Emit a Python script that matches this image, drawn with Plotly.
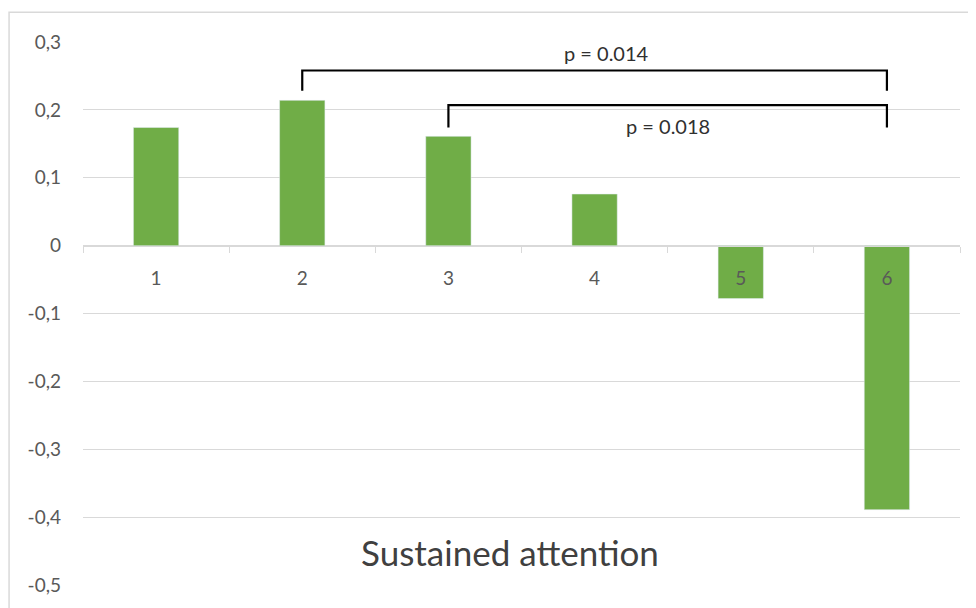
import plotly.graph_objects as go

categories = ["1", "2", "3", "4", "5", "6"]
values = [0.174, 0.214, 0.161, 0.076, -0.078, -0.389]
y_tickvals = [-0.5, -0.4, -0.3, -0.2, -0.1, 0, 0.1, 0.2, 0.3]
y_ticktext = ["-0,5", "-0,4", "-0,3", "-0,2", "-0,1", "0", "0,1", "0,2", "0,3"]
title_text = "Sustained attention"

# significance brackets: (from category, to category, top y, leg bottom y, label, label y, label x)
brackets = [
    ("2", "6", 0.258, 0.228, "p = 0.014", 0.284, 3.08),
    ("3", "6", 0.207, 0.174, "p = 0.018", 0.176, 3.5),
]

FONT = "Lato"
TXT = "#595959"
GREEN = "#70AD47"
GRID = "#D9D9D9"

fig = go.Figure()
fig.add_trace(go.Bar(x=categories, y=values, marker_color=GREEN, width=0.31,
                     showlegend=False, hoverinfo="skip"))

annotations = []
for a, b, top, leg, label, ly, lx in brackets:
    fig.add_trace(go.Scatter(x=[a, a, b, b], y=[leg, top, top, leg], mode="lines",
                             line=dict(color="black", width=2.2), showlegend=False,
                             hoverinfo="skip", cliponaxis=False))
    annotations.append(dict(x=lx, y=ly, xref="x", yref="y", text=label, showarrow=False,
                            font=dict(family=FONT, size=20, color="#303030")))

annotations.append(dict(x=0.487, y=-0.451, xref="paper", yref="y", text=title_text,
                        showarrow=False, font=dict(family=FONT, size=35, color="#404040")))

fig.update_layout(
    width=968, height=600,
    margin=dict(l=75, r=16, t=34, b=21),
    paper_bgcolor="white", plot_bgcolor="white",
    font=dict(family=FONT, size=19, color=TXT),
    annotations=annotations,
    shapes=[dict(type="rect", xref="paper", yref="paper", x0=-0.0843, x1=1.06, y0=-0.2, y1=1.055,
                 line=dict(color=GRID, width=1.5), layer="below")],
    xaxis=dict(type="category", categoryorder="array", categoryarray=categories,
               anchor="free", position=0.625, showline=True, linecolor=GRID, linewidth=1.3,
               ticks="outside", tickson="boundaries", ticklen=6, tickcolor=GRID,
               showgrid=False, ticklabelstandoff=15, tickfont=dict(size=19, color=TXT),
               range=[-0.5, 5.5]),
    yaxis=dict(range=[-0.5, 0.3], tickvals=y_tickvals, ticktext=y_ticktext,
               showgrid=True, gridcolor=GRID, gridwidth=1.3, zeroline=False,
               showline=False, ticks="", ticklabelstandoff=21,
               tickfont=dict(size=19, color=TXT)),
)

fig.write_html("out.html")
